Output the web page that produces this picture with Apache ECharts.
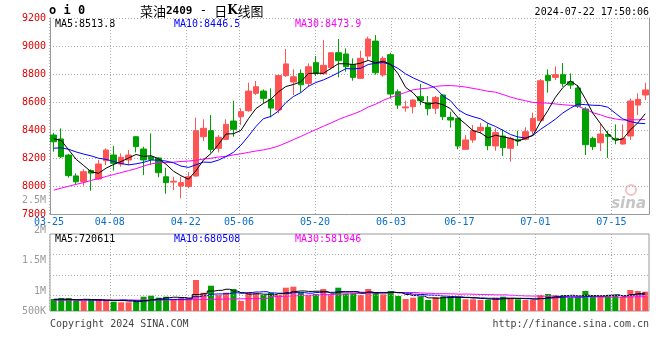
<!DOCTYPE html>
<html><head><meta charset="utf-8">
<script src="https://cdn.jsdelivr.net/npm/echarts@6/dist/echarts.min.js"></script>
<style>html,body{margin:0;padding:0;background:#fff}#c{width:660px;height:360px}</style>
</head><body><div id="c"></div>
<script>
// ---- data ----
const dates = [
 '2024-03-25','2024-03-26','2024-03-27','2024-03-28','2024-03-29','2024-04-01','2024-04-02','2024-04-03',
 '2024-04-08','2024-04-09','2024-04-10','2024-04-11','2024-04-12','2024-04-15','2024-04-16','2024-04-17','2024-04-18','2024-04-19',
 '2024-04-22','2024-04-23','2024-04-24','2024-04-25','2024-04-26','2024-04-29','2024-04-30',
 '2024-05-06','2024-05-07','2024-05-08','2024-05-09','2024-05-10','2024-05-13','2024-05-14','2024-05-15','2024-05-16','2024-05-17',
 '2024-05-20','2024-05-21','2024-05-22','2024-05-23','2024-05-24','2024-05-27','2024-05-28','2024-05-29','2024-05-30','2024-05-31',
 '2024-06-03','2024-06-04','2024-06-05','2024-06-06','2024-06-07','2024-06-11','2024-06-12','2024-06-13','2024-06-14',
 '2024-06-17','2024-06-18','2024-06-19','2024-06-20','2024-06-21','2024-06-24','2024-06-25','2024-06-26','2024-06-27','2024-06-28',
 '2024-07-01','2024-07-02','2024-07-03','2024-07-04','2024-07-05','2024-07-08','2024-07-09','2024-07-10','2024-07-11','2024-07-12',
 '2024-07-15','2024-07-16','2024-07-17','2024-07-18','2024-07-19','2024-07-22'];
const opens = [8364,8336,8221,8072,8031,8110,8050,8181,8221,8157, 8186,8352,8264,8209,8200,8066,8028,8000,7997,8071,
 8352,8395,8269,8333,8464,8495,8538,8662,8678,8619, 8543,8788,8743,8804,8733,8881,8802,8845,8952,8943,
 8869,8769,8928,9035,8793,8938,8673,8558,8566,8638, 8595,8555,8650,8490,8483,8262,8329,8395,8419,8286,
 8357,8269,8333,8333,8393,8467,8790,8776,8795,8745, 8700,8550,8340,8309,8367,8340,8300,8357,8578,8650];
const closes = [8316,8209,8074,8030,8102,8092,8157,8257,8162,8205, 8221,8281,8186,8190,8095,8024,8034,8024,8066,8395,
 8412,8262,8348,8440,8405,8531,8678,8709,8626,8557, 8789,8872,8780,8723,8852,8805,8862,8952,8895,8852,
 8776,8912,9050,8809,8912,8657,8578,8565,8614,8609, 8552,8633,8495,8471,8286,8329,8395,8419,8288,8381,
 8274,8340,8321,8388,8483,8752,8752,8795,8733,8721, 8569,8295,8281,8371,8355,8330,8340,8607,8619,8686];
const highs = [8380,8412,8230,8090,8119,8119,8186,8269,8286,8233, 8257,8355,8281,8376,8205,8130,8066,8066,8100,8488,
 8476,8507,8364,8476,8609,8555,8738,8750,8690,8698, 8795,8978,8833,8833,8876,8928,9042,8955,9050,8983,
 8912,8966,9066,9078,8926,8952,8690,8609,8619,8728, 8643,8643,8655,8531,8490,8364,8436,8450,8448,8412,
 8405,8352,8395,8419,8524,8764,8833,8855,8878,8805, 8722,8565,8352,8448,8395,8440,8440,8624,8662,8738];
const lows = [8245,8200,8060,8010,8002,7966,8043,8150,8110,8138, 8150,8240,8078,8150,8062,7945,7971,7912,7984,8066,
 8321,8238,8240,8330,8352,8436,8530,8650,8590,8490, 8519,8780,8650,8667,8709,8786,8795,8833,8776,8816,
 8752,8765,8900,8795,8781,8624,8550,8531,8519,8578, 8505,8514,8471,8417,8262,8260,8309,8374,8255,8252,
 8214,8174,8286,8326,8364,8460,8667,8757,8709,8693, 8557,8221,8257,8250,8200,8298,8295,8329,8507,8614];
const volumes = [457000,495000,495000,392000,392000,419000,457000,419000,354000,331000,
 331000,354000,545000,583000,507000,545000,446000,484000,484000,1181000,
 697000,964000,610000,697000,838000,381000,697000,674000,610000,697000,
 610000,888000,926000,697000,610000,648000,838000,610000,888000,648000,
 648000,610000,838000,712000,636000,762000,572000,457000,507000,545000,
 419000,522000,545000,545000,545000,446000,446000,419000,419000,507000,
 545000,484000,446000,419000,419000,610000,648000,610000,610000,507000,
 507000,762000,545000,545000,610000,610000,545000,800000,762000,735000];
// moving-average values before enough bars are on screen
const ma5Head = [8338,8325,8258,8190];
const ma10Head = [8270,8273,8262,8243,8228,8215,8198,8190,8175];
const ma30Head = [7970,7985,7998,8012,8024,8040,8053,8068,8082,8096,8110,8124,8142,8158,8166,8168,8170,8175,8178,8184,
 8192,8198,8207,8212,8222,8230,8240,8250,8258];
const volMa5Head = [450000,450000,440000,430000];
const volMa10Head = [430000,430000,430000,425000,420000,415000,410000,405000,400000];
const volMa30Head = [410000,410000,410000,410000,412000,412000,412000,414000,414000,414000,416000,416000,418000,420000,
 420000,422000,424000,426000,430000,436000,440000,446000,450000,456000,460000,466000,470000,476000,480000];
const priceMaLabels = ['MA5:8513.8','MA10:8446.5','MA30:8473.9'];
const volMaLabels = ['MA5:720611','MA10:680508','MA30:581946'];
const axisDates = ['03-25','04-08','04-22','05-06','05-20','06-03','06-17','07-01','07-15'];
const priceMin = 7800, priceMax = 9200, priceStep = 200;
const volTickLabels = ['500K','1M','1.5M','2M','2.5M'];
const volGridValues = [590000,1372000,2153000];
const volMax = 2934000;

// ---- helpers ----
function movingAvg(values, n, head){
  return values.map((v,i)=> i < n-1 ? head[i] : values.slice(i-n+1,i+1).reduce((a,b)=>a+b,0)/n);
}
const RED = '#ff5454', GREEN = '#00a000';
const MONO = '"DejaVu Sans Mono", monospace';
const dotted = {color:'#aaaaaa', width:1, type:[1,2]};
const kData = dates.map((d,i)=>[opens[i], closes[i], lows[i], highs[i]]);
const volData = volumes.map((v,i)=>({value:v, itemStyle:{color: closes[i] >= opens[i] ? RED : GREEN}}));
const showDate = (idx, val) => axisDates.indexOf(val.slice(5)) >= 0;

const chart = echarts.init(document.getElementById('c'), null, {renderer:'canvas'});
const txt = (x,y,text,fill,extra) => Object.assign({type:'text', x:x, y:y, silent:true,
  style:Object.assign({text:text, fill:fill, font:'10px '+MONO, verticalAlign:'middle'}, extra||{})});

chart.setOption({
  animation:false,
  backgroundColor:'#fff',
  grid:[
    {left:50, top:18, width:599, height:196},                 // price
    {left:50, top:234, width:599, height:77, show:true, borderColor:'#999', borderWidth:1}, // volume
    {left:50, top:200.7, width:1, height:120.3},                // volume tick labels
    {left:49, top:18, width:600.4, height:196},               // date grid for price
    {left:49, top:234, width:600.4, height:77}                // date grid for volume
  ],
  xAxis:[
    {type:'category', gridIndex:0, data:dates, boundaryGap:true,
      axisLine:{show:true, lineStyle:{color:'#999', width:1}}, axisTick:{show:false}, axisLabel:{show:false}, splitLine:{show:false}},
    {type:'category', gridIndex:1, data:dates, boundaryGap:true,
      axisLine:{show:false}, axisTick:{show:false}, axisLabel:{show:false}, splitLine:{show:false}},
    {type:'category', gridIndex:2, data:['a'], show:false},
    {type:'category', gridIndex:3, data:dates, boundaryGap:false,
      axisLine:{show:false}, axisTick:{show:false},
      axisLabel:{show:true, interval:showDate, formatter:v=>v.slice(5), color:'#0a6fc4', fontFamily:'DejaVu Sans Mono', fontSize:10, margin:3, showMinLabel:true},
      splitLine:{show:true, interval:showDate, lineStyle:dotted}},
    {type:'category', gridIndex:4, data:dates, boundaryGap:false,
      axisLine:{show:false}, axisTick:{show:false}, axisLabel:{show:false},
      splitLine:{show:true, interval:showDate, lineStyle:dotted}}
  ],
  yAxis:[
    {type:'value', gridIndex:0, min:priceMin, max:priceMax, interval:priceStep,
      axisLine:{show:true, lineStyle:{color:'#999'}}, axisTick:{show:false},
      axisLabel:{color:'#e00000', fontFamily:'DejaVu Sans Mono', fontSize:10, margin:4, showMinLabel:true, showMaxLabel:true,
        formatter:(v)=>String(v)},
      splitLine:{show:true, lineStyle:dotted}},
    {type:'value', gridIndex:0, position:'right', min:priceMin, max:priceMax,
      axisLine:{show:true, lineStyle:{color:'#999'}}, axisTick:{show:false}, axisLabel:{show:false}, splitLine:{show:false}},
    {type:'value', gridIndex:1, min:0, max:volMax,
      axisLine:{show:false}, axisTick:{show:false}, axisLabel:{show:false}, splitLine:{show:false}},
    {type:'value', gridIndex:2, min:500000, max:2500000, interval:500000,
      axisLine:{show:false}, axisTick:{show:false}, splitLine:{show:false},
      axisLabel:{color:'#999', fontFamily:'DejaVu Sans Mono', fontSize:10, margin:4, showMinLabel:true, showMaxLabel:true,
        formatter:(v)=>{ const i = Math.round((v-500000)/500000); return i===0 ? '{low|'+volTickLabels[0]+'}' : volTickLabels[i]; },
        rich:{low:{color:'#999', fontFamily:'DejaVu Sans Mono', fontSize:10, padding:[0,0,20,0]}}}},
    {type:'value', gridIndex:3, show:false},
    {type:'value', gridIndex:4, show:false}
  ],
  series:[
    {type:'candlestick', xAxisIndex:0, yAxisIndex:0, data:kData, barWidth:6,
      itemStyle:{color:RED, color0:GREEN, borderColor:RED, borderColor0:GREEN, borderWidth:1}},
    {type:'line', xAxisIndex:0, yAxisIndex:0, data:movingAvg(closes,30,ma30Head), symbol:'none', lineStyle:{color:'#ff00ff', width:1}, z:3},
    {type:'line', xAxisIndex:0, yAxisIndex:0, data:movingAvg(closes,10,ma10Head), symbol:'none', lineStyle:{color:'#0000ff', width:1}, z:3},
    {type:'line', xAxisIndex:0, yAxisIndex:0, data:movingAvg(closes,5,ma5Head), symbol:'none', lineStyle:{color:'#000', width:1}, z:3},
    {type:'bar', xAxisIndex:1, yAxisIndex:2, data:volData, barWidth:6,
      markLine:{silent:true, symbol:'none', label:{show:false}, lineStyle:dotted, animation:false,
        data:volGridValues.map(v=>({yAxis:v}))}},
    {type:'line', xAxisIndex:1, yAxisIndex:2, data:movingAvg(volumes,30,volMa30Head), step:'middle', symbol:'none', lineStyle:{color:'#ff00ff', width:1}, z:3},
    {type:'line', xAxisIndex:1, yAxisIndex:2, data:movingAvg(volumes,10,volMa10Head), step:'middle', symbol:'none', lineStyle:{color:'#0000ff', width:1}, z:3},
    {type:'line', xAxisIndex:1, yAxisIndex:2, data:movingAvg(volumes,5,volMa5Head), step:'middle', symbol:'none', lineStyle:{color:'#000', width:1}, z:3}
  ],
  graphic:[
    txt(49,11,'o i 0','#000',{font:'bold 12px '+MONO}),
    {type:'text', x:140, y:11, silent:true, style:{
      text:'{a|菜油}{b|2409}{c| - }{a|日}{k|K}{a|线图}', verticalAlign:'middle',
      rich:{a:{fontFamily:'"Noto Sans CJK SC"', fontSize:13, fill:'#000', color:'#000'},
            b:{fontFamily:MONO, fontSize:11, color:'#777', fontWeight:'bold'},
            c:{fontFamily:MONO, fontSize:12, color:'#000'},
            k:{fontFamily:'"DejaVu Serif"', fontSize:12, fontWeight:'bold', color:'#000'}}}},
    txt(649,12,'2024-07-22 17:50:06','#000',{align:'right'}),
    txt(55,24,priceMaLabels[0],'#000'),
    txt(174,24,priceMaLabels[1],'#0000ff'),
    txt(295,24,priceMaLabels[2],'#ff00ff'),
    txt(55,239,volMaLabels[0],'#000'),
    txt(174,239,volMaLabels[1],'#0000ff'),
    txt(295,239,volMaLabels[2],'#ff00ff'),
    txt(50,324,'Copyright 2024 SINA.COM','#444'),
    txt(649,324,'http://finance.sina.com.cn','#444',{align:'right'}),
    txt(646,204,'sina','rgba(150,150,150,0.55)',{align:'right', font:'italic bold 15px "DejaVu Sans"'}),
    {type:'circle', x:631, y:190, silent:true, shape:{r:5}, style:{fill:'none', stroke:'rgba(230,120,120,0.45)', lineWidth:2}}
  ]
});
</script></body></html>
